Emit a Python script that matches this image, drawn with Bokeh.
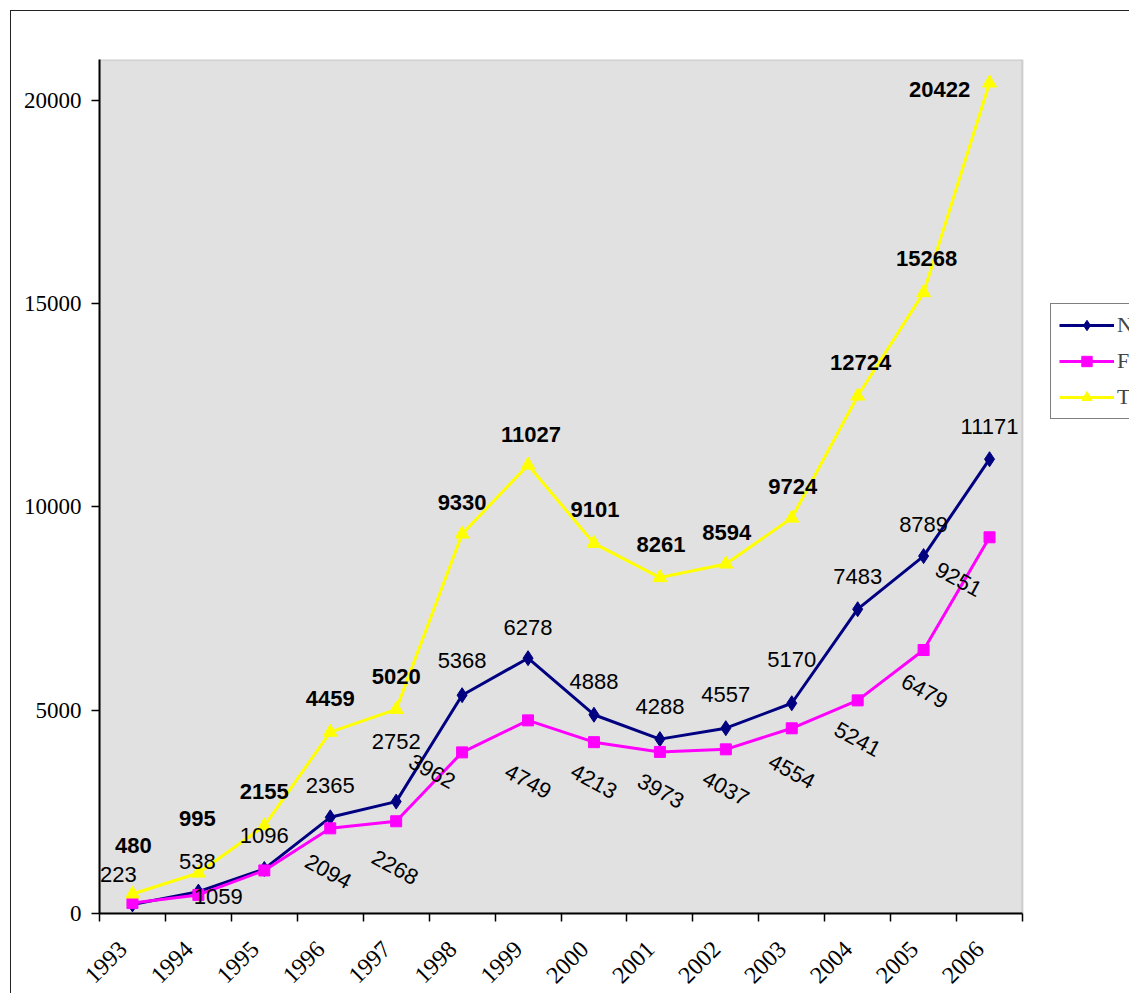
import math
from bokeh.plotting import figure
from bokeh.models import (ColumnDataSource, FixedTicker, Range1d, Legend, LegendItem,
                          BoxAnnotation)
from bokeh.core.properties import value
from bokeh.embed import file_html
from bokeh.resources import INLINE

# ---- data ----
years = ["1993", "1994", "1995", "1996", "1997", "1998", "1999",
         "2000", "2001", "2002", "2003", "2004", "2005", "2006"]
n_values = [223, 538, 1096, 2365, 2752, 5368, 6278, 4888, 4288, 4557, 5170, 7483, 8789, 11171]
f_values = [257, 457, 1059, 2094, 2268, 3962, 4749, 4213, 3973, 4037, 4554, 5241, 6479, 9251]
t_values = [480, 995, 2155, 4459, 5020, 9330, 11027, 9101, 8261, 8594, 9724, 12724, 15268, 20422]
series_names = ["N", "F", "T"]
y_ticks = [0, 5000, 10000, 15000, 20000]
y_max = 21000

# label texts (F labels for the first two years are not shown in the chart)
n_labels = [str(v) for v in n_values]
f_labels = ["", ""] + [str(v) for v in f_values[2:]]
t_labels = [str(v) for v in t_values]

# ---- label placement styles (screen px offsets, angles) ----
n_dx = [-14, -1, 0, 0, 0, 0, 0, 0, 0, 0, 0, 0, 0, 0]
n_dy = [30, 30, 33, 32, 60, 35, 31, 33, 33, 34, 44, 33, 32, 33]
f_dx = [0, 0, -46, -2, -1, -30, 0, 0, 1, 0, 0, 0, 1, -31]
f_dy = [0, 0, -26, -43, -46, -19, -61, -39, -39, -39, -43, -39, -41, -42]
f_angle = [0, 0, 0] + [-0.5] * 11
t_dx = [1, -1, 0, 0, 0, 0, 3, 1, 1, 1, 1, 3, 3, -50]
t_dy = [48, 55, 34, 34, 33, 32, 31, 34, 33, 32, 32, 34, 34, -6]

xs = list(range(1, len(years) + 1))
n_cat = len(years)

src = ColumnDataSource(dict(
    x=xs, n=n_values, f=f_values, t=t_values,
    n_lab=n_labels, f_lab=f_labels, t_lab=t_labels,
    n_dx=n_dx, n_dy=[-d for d in n_dy],
    f_dx=f_dx, f_dy=[-d for d in f_dy], f_angle=f_angle,
    t_dx=t_dx, t_dy=[-d for d in t_dy],
))

# layout (canvas px): plot area 923 px wide, frame runs to the canvas right edge
W, H = 1119, 983
left_b, top_b, bot_b = 88, 48, 81
area_w = 923
frame_w = W - left_b
x_end = 0.5 + frame_w * n_cat / area_w
label_shift = 0.14  # rotated tick labels sit slightly left of the category centre

p = figure(width=W, height=H, output_backend="svg", toolbar_location=None,
           x_range=Range1d(0.5, x_end), y_range=Range1d(0, y_max),
           min_border_left=left_b, min_border_right=0, min_border_top=top_b,
           min_border_bottom=bot_b)
p.margin = (10, 0, 0, 10)
p.styles = {"border-left": "1.5px solid #222222", "border-top": "1.5px solid #222222"}

p.background_fill_color = "white"
p.border_fill_color = "white"
p.outline_line_color = None
p.xgrid.visible = False
p.ygrid.visible = False

# grey plot area
p.add_layout(BoxAnnotation(left=0.5, right=n_cat + 0.5, bottom=0, top=y_max,
                           fill_color="#e1e1e1", fill_alpha=1,
                           line_color="#808080", line_width=2, level="underlay"))

# x axis: labels near category centres, ticks at category boundaries
label_pos = [x - label_shift for x in xs]
p.xaxis.bounds = (0.5, n_cat + 0.5)
p.xaxis.ticker = FixedTicker(ticks=label_pos, minor_ticks=[i + 0.5 for i in range(n_cat + 1)])
p.xaxis.major_label_overrides = {lp: y for lp, y in zip(label_pos, years)}
p.xaxis.major_tick_in = 0
p.xaxis.major_tick_out = 0
p.xaxis.minor_tick_in = 0
p.xaxis.minor_tick_out = 8
p.xaxis.minor_tick_line_color = "black"
p.xaxis.minor_tick_line_width = 1.5
p.xaxis.major_label_orientation = math.pi / 4
p.xaxis.major_label_standoff = 24
p.xaxis.major_label_text_font = "Liberation Serif"
p.xaxis.major_label_text_font_size = "24px"
p.xaxis.major_label_text_color = "black"
p.xaxis.axis_line_color = "black"
p.xaxis.axis_line_width = 2

p.yaxis.ticker = FixedTicker(ticks=y_ticks, minor_ticks=[])
p.yaxis.major_tick_in = 0
p.yaxis.major_tick_out = 8
p.yaxis.major_tick_line_color = "black"
p.yaxis.major_tick_line_width = 1.5
p.yaxis.minor_tick_in = 0
p.yaxis.minor_tick_out = 0
p.yaxis.major_label_standoff = 10
p.yaxis.major_label_text_font = "Liberation Serif"
p.yaxis.major_label_text_font_size = "23px"
p.yaxis.major_label_text_color = "black"
p.yaxis.axis_line_color = "black"
p.yaxis.axis_line_width = 2

# ---- series ----
ln = p.line("x", "n", source=src, line_color="#000080", line_width=3)
mn = p.scatter("x", "n", source=src, marker="diamond", size=15,
               fill_color="#000080", line_color="#000080")
lf = p.line("x", "f", source=src, line_color="#ff00ff", line_width=3)
mf = p.scatter("x", "f", source=src, marker="square", size=11,
               fill_color="#ff00ff", line_color="#ff00ff")
lt = p.line("x", "t", source=src, line_color="#ffff00", line_width=3)
mt = p.scatter("x", "t", source=src, marker="triangle", size=14,
               fill_color="#ffff00", line_color="#ffff00")

# ---- data labels ----
p.text("x", "n", text="n_lab", source=src, x_offset="n_dx", y_offset="n_dy",
       text_font=value("Liberation Sans"), text_font_size="22px", text_color="black",
       text_align="center", text_baseline="middle")
p.text("x", "f", text="f_lab", source=src, x_offset="f_dx", y_offset="f_dy",
       angle="f_angle", text_font=value("Liberation Sans"), text_font_size="22px",
       text_color="black", text_align="center", text_baseline="middle")
p.text("x", "t", text="t_lab", source=src, x_offset="t_dx", y_offset="t_dy",
       text_font=value("Liberation Sans"), text_font_size="22px", text_font_style="bold",
       text_color="black", text_align="center", text_baseline="middle")

# ---- legend ----
legend = Legend(items=[
    LegendItem(label=series_names[0], renderers=[ln, mn]),
    LegendItem(label=series_names[1], renderers=[lf, mf]),
    LegendItem(label=series_names[2], renderers=[lt, mt]),
], location=(951, 494))
legend.border_line_color = "black"
legend.border_line_width = 1
legend.background_fill_color = "white"
legend.background_fill_alpha = 1
legend.label_text_font = "Liberation Serif"
legend.label_text_font_size = "22px"
legend.glyph_width = 55
legend.glyph_height = 26
legend.spacing = 10
legend.padding = 8
legend.margin = 0
legend.label_standoff = 3
p.add_layout(legend, "center")

open("out.html", "w").write(file_html(p, INLINE))
